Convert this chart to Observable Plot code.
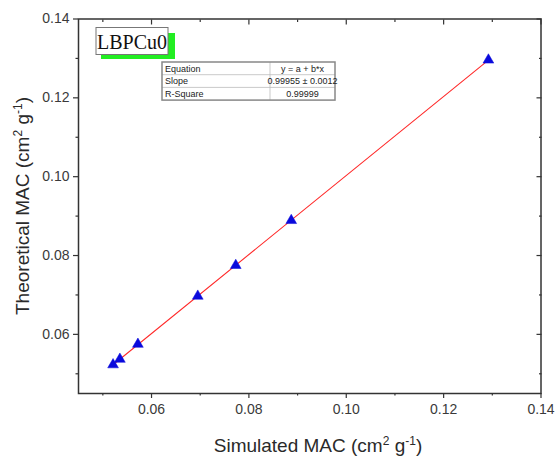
<!DOCTYPE html>
<html>
<head>
<meta charset="utf-8">
<script src="https://cdn.jsdelivr.net/npm/d3@7"></script>
<script src="https://cdn.jsdelivr.net/npm/@observablehq/plot@0.6"></script>
<style>
  html, body { margin: 0; padding: 0; background: white; }
</style>
</head>
<body>
<div id="chart"></div>
<script>
// ---- data ----
const simulated   = [0.0521, 0.0535, 0.0572, 0.0695, 0.0773, 0.0887, 0.1292];
const theoretical = [0.0523, 0.0537, 0.0575, 0.0697, 0.0775, 0.0889, 0.1296];
const majorTicks = [0.06, 0.08, 0.10, 0.12, 0.14];
const minorTicks = [0.05, 0.07, 0.09, 0.11, 0.13];
const xTitle = ["Simulated MAC (cm", "2", " g", "-1", ")"];
const yTitle = ["Theoretical MAC (cm", "2", " g", "-1", ")"];
const legendLabel = "LBPCu0";
const tableKeys = ["Equation", "Slope", "R-Square"];
const tableValues = ["y = a + b*x", "0.99955 \u00b1 0.0012", "0.99999"];

const data = simulated.map((s, i) => ({s, t: theoretical[i]}));
const axisColor = "#333";
const fmt = d => d.toFixed(2);

const chart = Plot.plot({
  width: 557,
  height: 457,
  marginLeft: 78,
  marginRight: 16.5,
  marginTop: 18.5,
  marginBottom: 64,
  style: {fontFamily: "'Liberation Sans', Arial, sans-serif", fontSize: "14px", color: "#3a3a3a", background: "white"},
  x: {domain: [0.045, 0.14]},
  y: {domain: [0.045, 0.14]},
  marks: [
    Plot.frame({stroke: axisColor, strokeWidth: 1.5}),
    Plot.axisX(majorTicks, {anchor: "bottom", tickSize: 5, tickPadding: 6, tickFormat: fmt, label: null, stroke: axisColor, strokeWidth: 1.2}),
    Plot.axisX(minorTicks, {anchor: "bottom", tickSize: 2.5, tickFormat: () => "", label: null, stroke: axisColor, strokeWidth: 1.2}),
    Plot.axisX(majorTicks, {anchor: "top", tickSize: -5, tickFormat: () => "", label: null, stroke: axisColor, strokeWidth: 1.2}),
    Plot.axisX(minorTicks, {anchor: "top", tickSize: -2.5, tickFormat: () => "", label: null, stroke: axisColor, strokeWidth: 1.2}),
    Plot.axisY(majorTicks, {anchor: "left", tickSize: 5, tickPadding: 4, tickFormat: fmt, label: null, stroke: axisColor, strokeWidth: 1.2}),
    Plot.axisY(minorTicks, {anchor: "left", tickSize: 2.5, tickFormat: () => "", label: null, stroke: axisColor, strokeWidth: 1.2}),
    Plot.axisY(majorTicks, {anchor: "right", tickSize: -5, tickFormat: () => "", label: null, stroke: axisColor, strokeWidth: 1.2}),
    Plot.axisY(minorTicks, {anchor: "right", tickSize: -2.5, tickFormat: () => "", label: null, stroke: axisColor, strokeWidth: 1.2}),
    Plot.linearRegressionY(data, {x: "s", y: "t", ci: 0, stroke: "#ff2a2a", strokeWidth: 1.1}),
    Plot.dot(data, {x: "s", y: "t", symbol: "triangle", r: 4, fill: "#0a0adc", stroke: "#0a0adc", strokeWidth: 0.5})
  ]
});

document.getElementById("chart").appendChild(chart);
const svg = d3.select(chart);

function addTitle(parts, x, y, rotate) {
  const t = svg.append("text")
    .attr("transform", `translate(${x},${y}) rotate(${rotate})`)
    .attr("text-anchor", "middle")
    .attr("font-family", "'Liberation Sans', Arial, sans-serif")
    .attr("font-size", 19)
    .attr("fill", "#2a2a2a");
  parts.forEach((p, i) => {
    const sup = i % 2 === 1;
    t.append("tspan")
      .attr("font-size", sup ? 12 : 19)
      .attr("dy", sup ? -7 : (i > 0 ? 7 : 0))
      .text(p);
  });
}
addTitle(xTitle, 318, 452, 0);
addTitle(yTitle, 29, 206, -90);

// legend box with green shadow
const lg = svg.append("g");
lg.append("rect").attr("x", 101).attr("y", 33).attr("width", 74).attr("height", 26).attr("fill", "#22ee22");
lg.append("rect").attr("x", 96).attr("y", 27.5).attr("width", 72).attr("height", 27).attr("fill", "white").attr("stroke", "#777").attr("stroke-width", 1);
lg.append("text").attr("x", 132).attr("y", 48.5).attr("text-anchor", "middle")
  .attr("font-family", "'Liberation Serif', 'Times New Roman', serif").attr("font-size", 20).attr("fill", "#111")
  .text(legendLabel);

// fit table
const tx = 162, ty = 62, tw = 173, rh = 12.7, cx = 270;
const tg = svg.append("g").attr("font-family", "'Liberation Sans', Arial, sans-serif").attr("font-size", 9).attr("fill", "#222");
tg.append("rect").attr("x", tx).attr("y", ty).attr("width", tw).attr("height", rh * 3).attr("fill", "white");
for (let i = 1; i < 3; i++) {
  tg.append("line").attr("x1", tx).attr("x2", tx + tw).attr("y1", ty + rh * i).attr("y2", ty + rh * i).attr("stroke", "#bbb").attr("stroke-width", 0.8);
}
tg.append("line").attr("x1", cx).attr("x2", cx).attr("y1", ty).attr("y2", ty + rh * 3).attr("stroke", "#bbb").attr("stroke-width", 0.8);
tg.append("rect").attr("x", tx).attr("y", ty).attr("width", tw).attr("height", rh * 3).attr("fill", "none").attr("stroke", "#888").attr("stroke-width", 1.5);
tableKeys.forEach((k, i) => {
  tg.append("text").attr("x", tx + 3).attr("y", ty + rh * i + 9.5).attr("text-anchor", "start").text(k);
  tg.append("text").attr("x", (cx + tx + tw) / 2).attr("y", ty + rh * i + 9.5).attr("text-anchor", "middle").text(tableValues[i]);
});
</script>
</body>
</html>
